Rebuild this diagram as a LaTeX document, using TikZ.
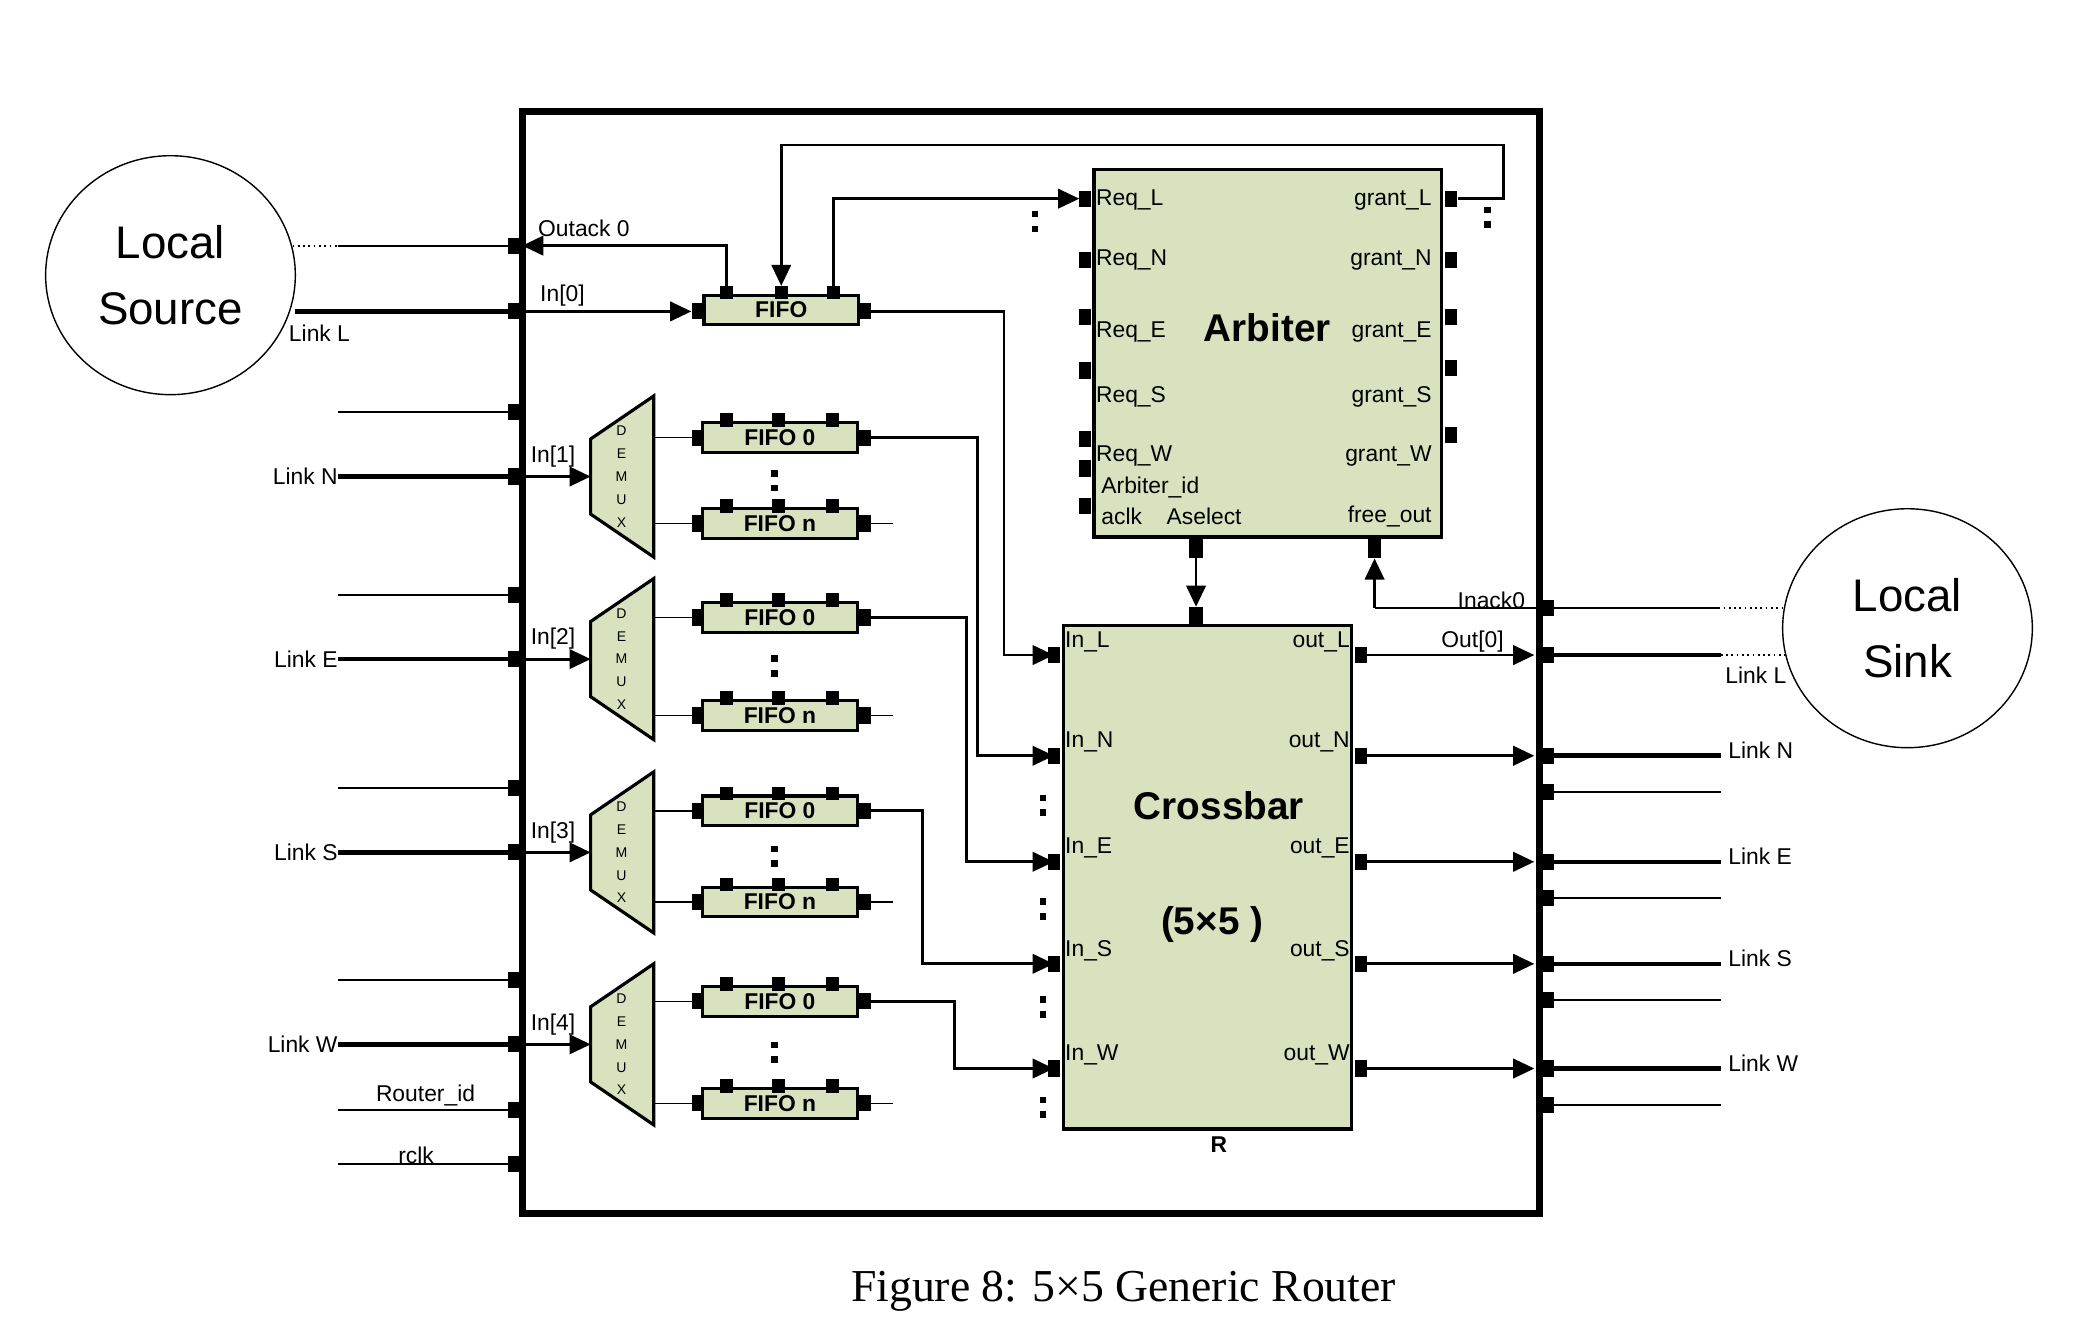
\documentclass[tikz,border=0pt]{standalone}
\usepackage{fontspec}
\setmainfont{Liberation Sans}
\newfontfamily\capfont{Liberation Serif}
\usetikzlibrary{arrows.meta,shapes.geometric}
\definecolor{blkgreen}{HTML}{D9E2BF}
\tikzset{
  blk/.style={draw, line width=0.9pt, fill=blkgreen},
  flow/.style={line width=0.8pt},
  link/.style={line width=1.3pt},
  thin/.style={line width=0.5pt},
  arr/.style={-{Triangle[length=6pt,width=5.5pt]}},
  lbl/.style={font=\fontsize{6.5}{7}\selectfont, inner sep=0pt},
  fifo/.style={blk, minimum width=115*0.13423mm, minimum height=22*0.13423mm, inner sep=0pt, font=\fontsize{6.5}{7}\selectfont\bfseries}
}
\newcommand\hpin[2]{\fill (#1-4.5,#2-6) rectangle (#1+4.5,#2+6);}
\newcommand\vpin[2]{\fill (#1-5,#2-5) rectangle (#1+5,#2+5);}
\newcommand\pindots[2]{\fill (#1-2.5,#2-8) rectangle (#1+2.5,#2-3); \fill (#1-2.5,#2+3) rectangle (#1+2.5,#2+8);}
\begin{document}
\begin{tikzpicture}[x=0.13423mm, y=-0.13423mm]
  \useasboundingbox (0,0) rectangle (1554,986.4);
  % router frame
  \draw[line width=2pt] (389,83) rectangle (1147,904);
  % local source and sink
  \node[draw, ellipse, minimum width=186*0.13423mm, minimum height=178*0.13423mm, align=center,
    font=\fontsize{13}{19}\selectfont] (src) at (127,205) {Local\\Source};
  \node[draw, ellipse, minimum width=186*0.13423mm, minimum height=178*0.13423mm, align=center,
    font=\fontsize{13}{19}\selectfont] (sink) at (1421,468) {Local\\Sink};
  % left side links
  \draw[thin, densely dotted] (218,183) -- (252,183);
  \draw[thin] (252,183) -- (389,183);
  \draw[link] (220,232) -- (389,232);
  \node[lbl] at (238,248) {Link L};
  \hpin{383}{183} \hpin{383}{232}
  \foreach \c/\f/\n/\k/\lnk/\ox/\iny in {355/326/390/1/N/728/563, 491/460/533/2/E/720/642,
      635/604/672/3/S/687/718, 778/746/822/4/W/711/796} {
    \pgfmathtruncatemacro\m{(\f+\n)/2}
    \draw[thin] (252,\c-48) -- (389,\c-48);
    \hpin{383}{\c-48}
    \draw[link] (252,\c) -- (389,\c);
    \hpin{383}{\c}
    \node[lbl, anchor=east] at (252,\c) {Link \lnk};
    % demux
    \draw[blk] (487,\c-60) -- (487,\c+60) -- (440,\c+28) -- (440,\c-28) -- cycle;
    \node[align=center, inner sep=0pt, font=\fontsize{4}{6.5}\selectfont] at (463,\c) {D\\E\\M\\U\\X};
    \draw[flow, arr] (389,\c) -- (440,\c);
    \node[lbl] at (412,\c-15) {In[\k]};
    % fifos
    \draw[thin] (487,\f) -- (520,\f);
    \draw[thin] (487,\n) -- (520,\n);
    \node[fifo] (f0\k) at (581,\f) {FIFO 0};
    \node[fifo] (fn\k) at (581,\n) {FIFO n};
    \foreach \px in {541,580,620} {\vpin{\px}{\f-13} \vpin{\px}{\n-13}}
    \hpin{520}{\f} \hpin{644}{\f} \hpin{520}{\n} \hpin{644}{\n}
    \draw[thin] (648,\n) -- (665,\n);
    \pindots{577}{\m}
    \draw[flow, arr] (648,\f) -| (\ox,\iny) -- (785,\iny);
  }
  \node[lbl] at (317,816) {Router\_id};
  \draw[thin] (252,827) -- (389,827); \hpin{383}{827}
  \node[lbl] at (310,861) {rclk};
  \draw[thin] (252,867) -- (389,867); \hpin{383}{867}
  % local fifo
  \node[fifo] (fl) at (582,231) {FIFO};
  \foreach \px in {541,582,621} {\vpin{\px}{218}}
  \hpin{520}{232} \hpin{644}{232}
  \draw[flow, arr] (389,232) -- (515,232);
  \node[lbl] at (419,220) {In[0]};
  \draw[flow, arr] (541,213) |- (389,183);
  \node[lbl] at (435,170) {Outack 0};
  \draw[flow, arr] (648,232) -| (748,488) -- (785,488);
  % arbiter
  \draw[blk] (815,126) rectangle (1074,400);
  \node[font=\fontsize{11}{13}\selectfont\bfseries] (arb) at (944,244) {Arbiter};
  \foreach \py in {148,194,236,276,327,349,377} {\hpin{808}{\py}}
  \foreach \py in {148,194,236,274,324} {\hpin{1081}{\py}}
  \foreach \t/\py in {Req\_L/149, Req\_N/194, Req\_E/247, Req\_S/296, Req\_W/340}
    {\node[lbl, anchor=west] at (816,\py) {\t};}
  \foreach \t/\py in {grant\_L/149, grant\_N/194, grant\_E/247, grant\_S/296, grant\_W/340, free\_out/385}
    {\node[lbl, anchor=east] at (1067,\py) {\t};}
  \node[lbl, anchor=west] at (820,363) {Arbiter\_id};
  \node[lbl, anchor=west] at (820,385) {aclk};
  \node[lbl] at (897,385) {Aselect};
  \pindots{771}{165} \pindots{1108}{162}
  \draw[flow, arr] (621,213) |- (804,148);
  \draw[flow, arr] (1086,148) -- (1120,148) |- (582,108) -- (582,213);
  \fill (886,400) rectangle (896,416);
  \fill (1019,400) rectangle (1029,416);
  % crossbar
  \draw[blk] (792,466) rectangle (1007,841);
  \fill (886,452) rectangle (896,466);
  \draw[flow, arr] (891,416) -- (891,452);
  \node[font=\fontsize{11}{13}\selectfont\bfseries] (xbar) at (908,600) {Crossbar};
  \node[font=\fontsize{11}{13}\selectfont\bfseries] at (903,689) {(5×5 )};
  \node[font=\fontsize{6.5}{7}\selectfont\bfseries] at (908,853) {R};
  \foreach \py/\d in {488/L, 563/N, 642/E, 718/S, 796/W} {
    \hpin{785}{\py} \hpin{1014}{\py}
    \node[lbl, anchor=west] at (793,\py-10) {In\_\d};
    \node[lbl, anchor=east] at (1006,\py-10) {out\_\d};
    \draw[flow, arr] (1018,\py) -- (1143,\py);
    \hpin{1153}{\py}
  }
  \foreach \py in {600,677,750,825} {\pindots{777}{\py}}
  % right side links
  \draw[link] (1147,488) -- (1282,488);
  \draw[thin, densely dotted] (1282,488) -- (1332,488);
  \node[lbl] at (1308,503) {Link L};
  \draw[flow, arr] (1024,453) -- (1024,416);
  \draw[flow] (1024,453) -- (1147,453);
  \draw[thin] (1147,453) -- (1280,453);
  \draw[thin, densely dotted] (1280,453) -- (1328,453);
  \hpin{1153}{453}
  \node[lbl] at (1111,447) {Inack0};
  \node[lbl] at (1097,478) {Out[0]};
  \foreach \py/\d in {563/N, 642/E, 718/S, 796/W} {
    \draw[link] (1147,\py) -- (1282,\py);
    \node[lbl, anchor=west] at (1287,\py-4) {Link \d};
    \draw[thin] (1147,\py+27) -- (1282,\py+27);
    \hpin{1153}{\py+27}
  }
  % caption
  \node[font=\capfont\fontsize{13}{15}\selectfont] at (837,962) {Figure 8: 5×5 Generic Router};
\end{tikzpicture}
\end{document}
